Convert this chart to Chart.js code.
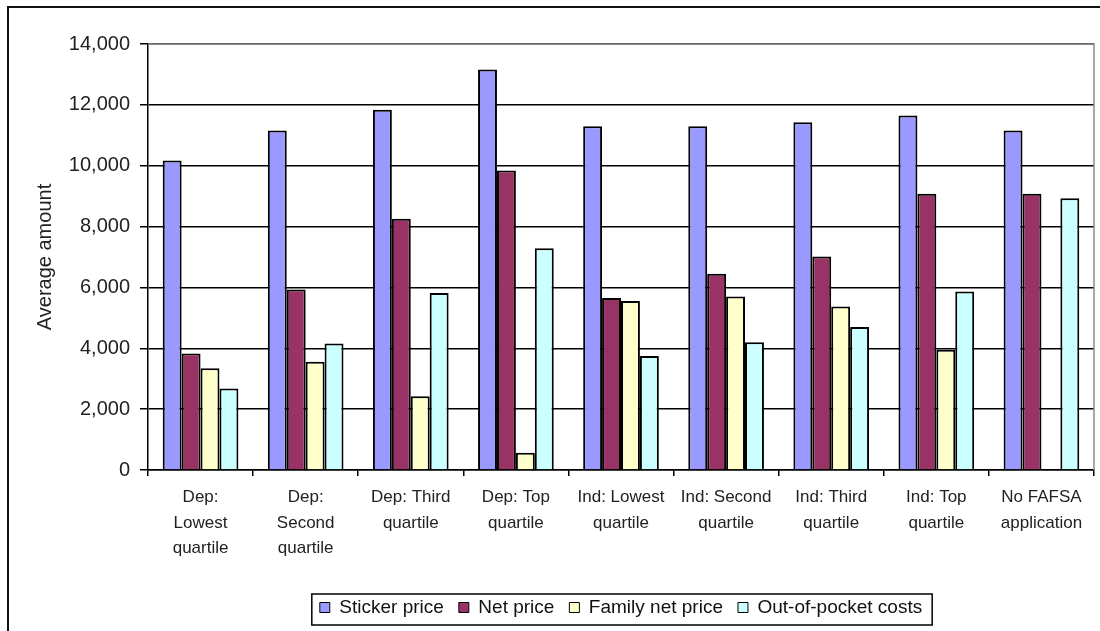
<!DOCTYPE html>
<html lang="en">
<head>
    <meta charset="UTF-8">
    <title>Average amount by group</title>
    <script src="https://cdn.jsdelivr.net/npm/chart.js"></script>
    <style>
        html, body { margin: 0; padding: 0; background: #fff; }
        #wrap { width: 1100px; height: 631px; position: relative; }
    </style>
</head>
<body>
<div id="wrap"><canvas id="priceChart"></canvas></div>
<script>
// categories (multi-line labels)
const categories = [
    ['Dep:', 'Lowest', 'quartile'],
    ['Dep:', 'Second', 'quartile'],
    ['Dep: Third', 'quartile'],
    ['Dep: Top', 'quartile'],
    ['Ind: Lowest', 'quartile'],
    ['Ind: Second', 'quartile'],
    ['Ind: Third', 'quartile'],
    ['Ind: Top', 'quartile'],
    ['No FAFSA', 'application']
];

// series values
const stickerPrice = [10170, 11160, 11840, 13160, 11300, 11300, 11430, 11650, 11160];
const netPrice     = [3830, 5930, 8260, 9840, 5650, 6450, 7020, 9080, 9080];
const familyNet    = [3340, 3560, 2420, 570, 5550, 5700, 5370, 3950, null];
const outOfPocket  = [2680, 4160, 5820, 7290, 3750, 4200, 4700, 5870, 8930];

const yTicks = [0, 2000, 4000, 6000, 8000, 10000, 12000, 14000];

const FONT = 'Liberation Sans, Arial, sans-serif';

// outer frame, plot border and legend box
const framePlugin = {
    id: 'frame',
    afterLayout(chart) {
        // center legend under the plot area
        const lg = chart.legend;
        lg.left = chart.chartArea.left;
        lg.right = chart.chartArea.right;
    },
    afterDraw(chart) {
        const ctx = chart.ctx;
        const a = chart.chartArea;
        ctx.save();
        // plot area border (gray)
        ctx.strokeStyle = '#8c8c8c';
        ctx.lineWidth = 1.5;
        ctx.beginPath();
        ctx.moveTo(a.left, a.top);
        ctx.lineTo(a.right, a.top);
        ctx.lineTo(a.right, a.bottom);
        ctx.stroke();
        // outer frame
        ctx.strokeStyle = '#111';
        ctx.lineWidth = 2;
        ctx.beginPath();
        ctx.moveTo(8, 631);
        ctx.lineTo(8, 7);
        ctx.lineTo(1100, 7);
        ctx.stroke();
        // legend box
        const boxes = chart.legend.legendHitBoxes;
        if (boxes && boxes.length) {
            const l = Math.min(...boxes.map(b => b.left)) - 8;
            const r = Math.max(...boxes.map(b => b.left + b.width)) + 10;
            const t = Math.min(...boxes.map(b => b.top)) - 4;
            const btm = Math.max(...boxes.map(b => b.top + b.height)) + 8;
            ctx.strokeStyle = '#000';
            ctx.lineWidth = 1.5;
            ctx.strokeRect(l, t, r - l, btm - t);
        }
        ctx.restore();
    }
};

const ctx = document.getElementById('priceChart').getContext('2d');

new Chart(ctx, {
    type: 'bar',
    data: {
        labels: categories,
        datasets: [
            { label: 'Sticker price', data: stickerPrice, backgroundColor: '#9999ff' },
            { label: 'Net price', data: netPrice, backgroundColor: '#993366' },
            { label: 'Family net price', data: familyNet, backgroundColor: '#ffffcc' },
            { label: 'Out-of-pocket costs', data: outOfPocket, backgroundColor: '#ccffff' }
        ]
    },
    options: {
        responsive: true,
        maintainAspectRatio: false,
        animation: false,
        layout: { padding: { left: 0, right: 6, top: 44, bottom: 4 } },
        datasets: {
            bar: {
                borderColor: '#000',
                borderWidth: 2,
                barPercentage: 1,
                categoryPercentage: 0.72
            }
        },
        scales: {
            x: {
                grid: { drawOnChartArea: false, color: '#000', tickLength: 6, lineWidth: 1.5 },
                border: { color: '#000', width: 1.5 },
                ticks: {
                    color: '#222',
                    font: { family: FONT, size: 17, lineHeight: 1.5 },
                    padding: 9,
                    maxRotation: 0,
                    autoSkip: false
                },
                afterFit(scale) { scale.height = 113; }
            },
            y: {
                min: 0,
                max: 14000,
                afterBuildTicks(scale) { scale.ticks = yTicks.map(v => ({ value: v })); },
                grid: { color: '#000', lineWidth: 1.5, tickLength: 8 },
                border: { color: '#000', width: 1.5 },
                ticks: {
                    color: '#222',
                    padding: 10,
                    font: { family: FONT, size: 20 },
                    callback: v => v.toLocaleString('en-US')
                },
                title: {
                    display: true,
                    text: 'Average amount',
                    color: '#222',
                    font: { family: FONT, size: 20 },
                    padding: { top: 33, bottom: 0 }
                },
                afterFit(scale) { scale.width = 148; }
            }
        },
        plugins: {
            legend: {
                position: 'bottom',
                labels: {
                    color: '#111',
                    font: { family: FONT, size: 19 },
                    boxWidth: 10,
                    boxHeight: 10,
                    padding: 15,
                    generateLabels(chart) {
                        return chart.data.datasets.map((ds, i) => ({
                            text: ds.label,
                            fillStyle: ds.backgroundColor,
                            strokeStyle: '#000',
                            lineWidth: 1,
                            hidden: false,
                            datasetIndex: i,
                            fontColor: '#111'
                        }));
                    }
                }
            },
            tooltip: { enabled: false }
        }
    },
    plugins: [framePlugin]
});
</script>
</body>
</html>
